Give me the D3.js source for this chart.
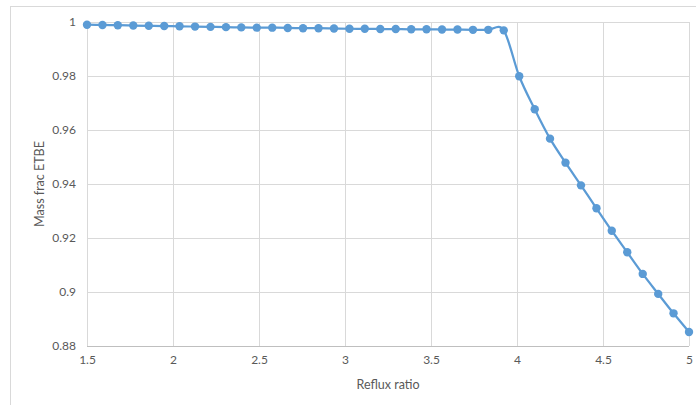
<!DOCTYPE html>
<html><head><meta charset="utf-8">
<script src="https://cdn.jsdelivr.net/npm/d3@7"></script>
<style>body{margin:0;background:#fff}svg{display:block}text{font-family:Lato,"Open Sans",sans-serif}</style>
</head><body>
<script>
const refluxRatio = [1.500,1.590,1.679,1.769,1.859,1.949,2.038,2.128,2.218,2.308,2.397,2.487,2.577,2.667,2.756,2.846,2.936,3.026,3.115,3.205,3.295,3.385,3.474,3.564,3.654,3.744,3.833,3.923,4.013,4.103,4.192,4.282,4.372,4.462,4.551,4.641,4.731,4.821,4.910,5.000];
const massFracETBE = [0.9990,0.9989,0.9988,0.9987,0.9986,0.9985,0.9984,0.9983,0.9982,0.9981,0.9980,0.9979,0.9979,0.9978,0.9977,0.9977,0.9976,0.9975,0.9975,0.9974,0.9974,0.9973,0.9973,0.9972,0.9972,0.9971,0.9971,0.9969,0.9799,0.9677,0.9568,0.9479,0.9395,0.9310,0.9227,0.9147,0.9067,0.8993,0.8921,0.8852];
const xTicks = [1.5,2,2.5,3,3.5,4,4.5,5];
const yTicks = [0.88,0.9,0.92,0.94,0.96,0.98,1];
const xTitle = "Reflux ratio";
const yTitle = "Mass frac ETBE";

const W=696,H=405;
const m={l:87,r:7,t:22,b:59};
const svg=d3.select("body").append("svg").attr("width",W).attr("height",H);
svg.append("rect").attr("x",10.5).attr("y",6.5).attr("width",700).attr("height",420)
  .attr("fill","#fff").attr("stroke","#D9D9D9");
const x=d3.scaleLinear().domain([1.5,5]).range([m.l,W-m.r]);
const y=d3.scaleLinear().domain([0.88,1]).range([H-m.b,m.t]);

const g=svg.append("g");
g.selectAll(".vg").data(xTicks).join("line")
  .attr("x1",d=>Math.round(x(d))+0.5).attr("x2",d=>Math.round(x(d))+0.5)
  .attr("y1",y(1)).attr("y2",y(0.88)).attr("stroke","#D9D9D9");
g.selectAll(".hg").data(yTicks).join("line")
  .attr("x1",x(1.5)).attr("x2",x(5))
  .attr("y1",d=>Math.round(y(d))+0.5).attr("y2",d=>Math.round(y(d))+0.5)
  .attr("stroke",d=>d===0.88?"#BFBFBF":"#D9D9D9");

const xa=d3.axisBottom(x).tickValues(xTicks).tickSize(0).tickPadding(9).tickFormat(d3.format(""));
const ya=d3.axisLeft(y).tickValues(yTicks).tickSize(0).tickPadding(11).tickFormat(d3.format(""));
const gx=svg.append("g").attr("transform",`translate(0,${y(0.88)})`).call(xa);
const gy=svg.append("g").attr("transform",`translate(${x(1.5)},0)`).call(ya);
[gx,gy].forEach(a=>{a.select(".domain").remove();a.selectAll("text").attr("fill","#595959").style("font-size","12px").style("font-family","Lato,'Open Sans',sans-serif");});

svg.append("text").attr("x",(x(1.5)+x(5))/2).attr("y",389).attr("text-anchor","middle")
  .attr("fill","#595959").style("font-size","12.5px").text(xTitle);
svg.append("text").attr("transform",`translate(44,${(y(1)+y(0.88))/2}) rotate(-90)`).attr("text-anchor","middle")
  .attr("fill","#595959").style("font-size","12.5px").text(yTitle);

const pts=refluxRatio.map((v,i)=>[v,massFracETBE[i]]);
const line=d3.line().x(d=>x(d[0])).y(d=>y(d[1])).curve(d3.curveCatmullRom.alpha(0));
svg.append("path").datum(pts).attr("d",line).attr("fill","none").attr("stroke","#5B9BD5").attr("stroke-width",2.25);
svg.selectAll(".pt").data(pts).join("circle").attr("cx",d=>x(d[0])).attr("cy",d=>y(d[1])).attr("r",4.2).attr("fill","#5B9BD5");
</script>
</body></html>
